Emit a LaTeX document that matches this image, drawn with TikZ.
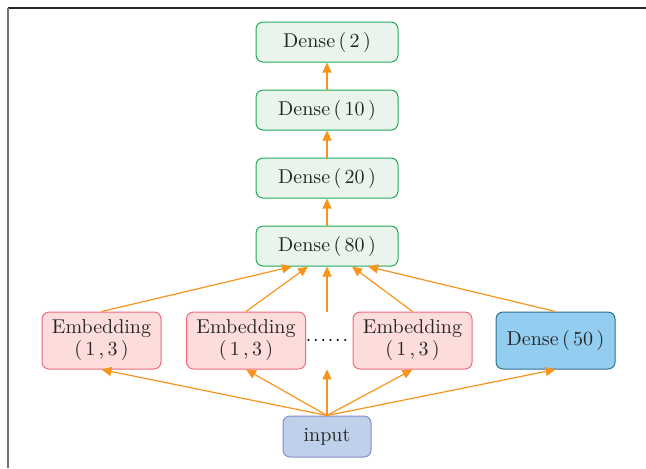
\documentclass[tikz,border=0pt]{standalone}
\usepackage{tikz}
\usetikzlibrary{calc,arrows.meta}

\definecolor{arrowc}{HTML}{F7941D}
\definecolor{densefill}{HTML}{E8F4EC}
\definecolor{densedraw}{HTML}{1FAA59}
\definecolor{embfill}{HTML}{FDDCDC}
\definecolor{embdraw}{HTML}{EF6A7A}
\definecolor{bluefill}{HTML}{93CDEF}
\definecolor{bluedraw}{HTML}{2C6E8E}
\definecolor{inputfill}{HTML}{BED0EA}
\definecolor{inputdraw}{HTML}{8E89C9}

\tikzset{
  layer/.style={draw,rounded corners=3.5pt,line width=0.5pt,align=center,
    inner sep=0pt,text=black!85},
  dense/.style={layer,fill=densefill,draw=densedraw,
    minimum width=71pt,minimum height=20pt},
  embed/.style={layer,fill=embfill,draw=embdraw,
    minimum width=59.5pt,minimum height=28.5pt},
  flow/.style={-{Triangle[length=5pt,width=4.5pt]},draw=arrowc,line width=0.6pt},
}

\begin{document}
\begin{tikzpicture}[x=0.5pt,y=-0.5pt]
  % Page and frame
  \useasboundingbox (0,0) rectangle (646,468);
  \draw[black!85,line width=0.7pt] (8,8) -- (646,8);
  \draw[black!55,line width=0.8pt] (8,8) -- (8,468);
  %
  % Dense stack
  \node[dense] (d2)  at (327,42)  {Dense\,(\,2\,)};
  \node[dense] (d10) at (327,110) {Dense\,(\,10\,)};
  \node[dense] (d20) at (327,178) {Dense\,(\,20\,)};
  \node[dense] (d80) at (327,246) {Dense\,(\,80\,)};
  %
  % Input branches
  \node[embed] (emb1) at (101.5,340.5) {Embedding\\[-1pt](\,1\,,\,3\,)};
  \node[embed] (emb2) at (246,340.5)   {Embedding\\[-1pt](\,1\,,\,3\,)};
  \node[minimum height=28.5pt,inner sep=0pt] (dots) at (327,340.5)
    {.\kern.9pt.\kern.9pt.\kern.9pt.\kern.9pt.\kern.9pt.};
  \node[embed] (emb3) at (412.5,340.5) {Embedding\\[-1pt](\,1\,,\,3\,)};
  \node[layer,fill=bluefill,draw=bluedraw,minimum width=59.5pt,
    minimum height=28.5pt] (d50) at (555.5,340.5) {Dense\,(\,50\,)};
  %
  % Input
  \node[layer,fill=inputfill,draw=inputdraw,minimum width=44pt,
    minimum height=20.5pt] (input) at (327,436.5) {input};
  %
  % Input to branches
  \foreach \b in {emb1,emb2,dots,emb3,d50}
    \draw[flow] (input.north) -- (\b.south);
  %
  % Branches to Dense(80)
  \draw[flow] (emb1.north) -- ($(d80.south)+(-35,0)$);
  \draw[flow] (emb2.north) -- ($(d80.south)+(-19,0)$);
  \draw[flow] (dots.north) -- (d80.south);
  \draw[flow] (emb3.north) -- ($(d80.south)+(25,0)$);
  \draw[flow] (d50.north)  -- ($(d80.south)+(41,0)$);
  %
  % Up the stack
  \draw[flow] (d80) -- (d20);
  \draw[flow] (d20) -- (d10);
  \draw[flow] (d10) -- (d2);
  %
\end{tikzpicture}
\end{document}
